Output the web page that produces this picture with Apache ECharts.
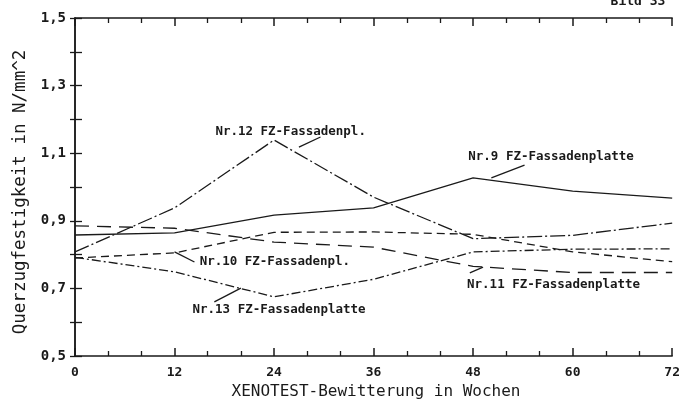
<!DOCTYPE html>
<html><head><meta charset="utf-8">
<script src="https://cdn.jsdelivr.net/npm/echarts@6/dist/echarts.min.js"></script>
<style>html,body{margin:0;padding:0;background:#fff}#c{width:683px;height:405px}</style>
</head><body><div id="c"></div>
<script>
// Data
const weeks = [0, 12, 24, 36, 48, 60, 72];
const nr9  = [0.858, 0.864, 0.917, 0.938, 1.027, 0.988, 0.967];
const nr12 = [0.808, 0.938, 1.139, 0.970, 0.847, 0.857, 0.893];
const nr10 = [0.790, 0.805, 0.866, 0.867, 0.860, 0.808, 0.779];
const nr11 = [0.885, 0.878, 0.837, 0.822, 0.765, 0.747, 0.747];
const nr13 = [0.792, 0.749, 0.675, 0.727, 0.808, 0.816, 0.817];
const xTickLabels = ['0', '12', '24', '36', '48', '60', '72'];
const yTickLabels = ['0,5', '0,7', '0,9', '1,1', '1,3', '1,5'];
const seriesNames = ['Nr.9 FZ-Fassadenplatte', 'Nr.12 FZ-Fassadenpl.', 'Nr.10 FZ-Fassadenpl.', 'Nr.11 FZ-Fassadenplatte', 'Nr.13 FZ-Fassadenplatte'];

const INK = '#1a1a1a';
const MONO = '"DejaVu Sans Mono", "Liberation Mono", monospace';

function pairs(vals) { return weeks.map((w, i) => [w, vals[i]]); }

const dashes = [
  'solid',
  [15, 3, 2, 3],
  [8, 5],
  [14, 8],
  [9, 3, 2, 3]
];
const allVals = [nr9, nr12, nr10, nr11, nr13];

const chart = echarts.init(document.getElementById('c'), null, {renderer: 'canvas'});

const axisCommonX = {
  type: 'value', min: 0, max: 72, interval: 12,
  axisLine: {show: true, lineStyle: {color: INK, width: 1.5}},
  axisTick: {show: true, inside: true, length: 8, lineStyle: {color: INK, width: 1.5}},
  minorTick: {show: true, splitNumber: 3, length: 5, lineStyle: {color: INK, width: 1.3}},
  splitLine: {show: false}
};
const axisCommonY = {
  type: 'value', min: 0.5, max: 1.5, interval: 0.1,
  axisLine: {show: true, lineStyle: {color: INK, width: 1.5}},
  axisTick: {show: true, inside: true, length: 7, lineStyle: {color: INK, width: 1.3}},
  splitLine: {show: false}
};

chart.setOption({
  animation: false,
  backgroundColor: '#fff',
  grid: {left: 75, right: 7, top: 18, bottom: 49, containLabel: false},
  xAxis: [
    Object.assign({}, axisCommonX, {
      position: 'bottom',
      axisLabel: {
        show: true, margin: 10, color: INK, fontFamily: MONO, fontWeight: 'bold', fontSize: 13,
        formatter: v => { const i = weeks.indexOf(Math.round(v)); return i >= 0 ? xTickLabels[i] : ''; }
      }
    }),
    Object.assign({}, axisCommonX, {position: 'top', axisLabel: {show: false}})
  ],
  yAxis: [
    Object.assign({}, axisCommonY, {
      position: 'left',
      axisLabel: {
        show: true, margin: 9, color: INK, fontFamily: MONO, fontWeight: 'bold', fontSize: 14,
        formatter: v => {
          const k = Math.round(v * 10);
          if (k % 2 === 1) { return yTickLabels[(k - 5) / 2]; }
          return '';
        }
      }
    }),
    Object.assign({}, axisCommonY, {position: 'right', axisTick: {show: true, inside: true, length: 5, lineStyle: {color: INK, width: 1.3}}, axisLabel: {show: false}})
  ],
  series: allVals.map((vals, i) => ({
    name: seriesNames[i],
    type: 'line',
    data: pairs(vals),
    symbol: 'none',
    smooth: false,
    lineStyle: {color: INK, width: 1.3, type: dashes[i]},
    z: 3
  }))
});

// Annotations: [series label, label centre (weeks, value), leader start, leader end]
const annotations = [
  {text: seriesNames[1], at: [26.0, 1.163], from: [27.0, 1.118], to: [29.6, 1.148]},
  {text: seriesNames[0], at: [57.4, 1.089], from: [50.2, 1.027], to: [54.2, 1.065]},
  {text: seriesNames[2], at: [24.1, 0.778], from: [12.0, 0.808], to: [14.4, 0.778]},
  {text: seriesNames[4], at: [24.6, 0.636], from: [16.8, 0.660], to: [20.0, 0.701]},
  {text: seriesNames[3], at: [57.7, 0.710], from: [47.6, 0.746], to: [49.2, 0.763]}
];

const graphics = [];
annotations.forEach(a => {
  const p = chart.convertToPixel({gridIndex: 0}, a.at);
  const f = chart.convertToPixel({gridIndex: 0}, a.from);
  const t = chart.convertToPixel({gridIndex: 0}, a.to);
  graphics.push({
    type: 'text', x: p[0], y: p[1], z: 10,
    style: {text: a.text, fill: INK, font: 'bold 12.5px ' + MONO, textAlign: 'center', textVerticalAlign: 'middle'}
  });
  graphics.push({
    type: 'line', z: 10,
    shape: {x1: f[0], y1: f[1], x2: t[0], y2: t[1]},
    style: {stroke: INK, lineWidth: 1.3}
  });
});
// Axis titles and figure tag
graphics.push({
  type: 'text', x: 20, y: 192, rotation: Math.PI / 2, z: 10,
  style: {text: 'Querzugfestigkeit in N/mm^2', fill: INK, font: '17.5px ' + MONO, textAlign: 'center', textVerticalAlign: 'middle'}
});
graphics.push({
  type: 'text', x: 376, y: 392, z: 10,
  style: {text: 'XENOTEST-Bewitterung in Wochen', fill: INK, font: '16px ' + MONO, textAlign: 'center', textVerticalAlign: 'middle'}
});
graphics.push({
  type: 'text', x: 638, y: 8, z: 10,
  style: {text: 'Bild 33', fill: INK, font: 'bold 13px ' + MONO, textAlign: 'center', textVerticalAlign: 'bottom'}
});
chart.setOption({graphic: graphics});
</script>
</body></html>
